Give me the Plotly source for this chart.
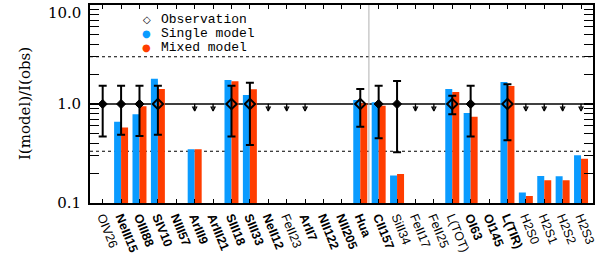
import plotly.graph_objects as go

# ---------------- data ----------------
lines = ["OIV26", "NeIII15", "OIII88", "SIV10", "NIII57", "ArIII9", "ArIII21",
         "SIII18", "SIII33", "NeII12", "FeII23", "ArII7", "NII122", "NII205",
         "Hua", "CII157", "SiII34", "FeII17", "FeII25", "L(TOT)", "OI63",
         "OI145", "L(TIR)", "H2S0", "H2S1", "H2S2", "H2S3"]
bold = [False, True, True, True, True, True, True, True, True, True, False,
        True, True, True, True, True, False, False, False, False, True, True,
        True, False, False, False, False]

single_model = [None, 0.66, 0.79, 1.80, None, 0.35, None, 1.75, 1.23, None, None,
                None, None, None, 1.10, 1.04, 0.19, None, None, 1.42, 0.81, None,
                1.67, 0.128, 0.187, 0.186, 0.303]
mixed_model = [None, 0.58, 0.95, 1.42, None, 0.35, None, 1.70, 1.41, None, None,
               None, None, None, 1.02, 0.96, 0.196, None, None, 1.32, 0.745, None,
               1.52, 0.118, 0.17, 0.17, 0.28]

# observations (ratio = 1) with error ranges; 'filled' vs open diamond
obs_filled = ["OIV26", "NeIII15", "OIII88", "CII157", "SiII34", "OI63"]
obs_filled_lo = [0.47, 0.49, 0.475, 0.45, 0.325, 0.47]
obs_filled_hi = [1.53, 1.53, 1.53, 1.53, 1.71, 1.53]

obs_open = ["SIV10", "SIII18", "SIII33", "Hua", "L(TOT)", "L(TIR)"]
obs_open_lo = [0.49, 0.47, 0.385, 0.59, 0.79, 0.43]
obs_open_hi = [1.53, 1.53, 1.64, 1.42, 1.21, 1.58]

upper_limits = ["ArIII9", "ArIII21", "NeII12", "FeII23", "ArII7", "FeII17",
                "FeII25", "H2S0", "H2S1", "H2S2", "H2S3"]
limit_tip = 0.85              # where the upper-limit arrows end

divider_pos = 14.47           # thin grey separator between Hua and CII157
x_range = [-0.69, 26.65]
y_ticks = [0.1, 1, 10]
y_ticktext = ["0.1", "1.0", "10.0"]
blue = "#0A9BFF"
orange = "#FF3D00"

idx = {n: i for i, n in enumerate(lines)}
xs = list(range(len(lines)))

fig = go.Figure()
fig.add_trace(go.Bar(x=xs, y=single_model, marker=dict(color=blue, line=dict(width=0)),
                     name="Single model", showlegend=False))
fig.add_trace(go.Bar(x=xs, y=mixed_model, marker=dict(color=orange, line=dict(width=0)),
                     name="Mixed model", showlegend=False))

# upper limit arrows: stem (error bar) + arrow head marker
ul_x = [idx[n] for n in upper_limits]
fig.add_trace(go.Scatter(x=ul_x, y=[1] * len(ul_x), mode="markers",
                         marker=dict(size=1, color="black"),
                         error_y=dict(type="data", symmetric=False,
                                      array=[0] * len(ul_x),
                                      arrayminus=[1 - limit_tip] * len(ul_x),
                                      color="black", thickness=1.3, width=0),
                         showlegend=False, hoverinfo="skip"))
fig.add_trace(go.Scatter(x=ul_x, y=[limit_tip] * len(ul_x), mode="markers",
                         marker=dict(symbol="arrow-down-open", size=4, color="black",
                                     line=dict(color="black", width=1.2)),
                         showlegend=False, hoverinfo="skip"))

def err_trace(names, lo, hi, symbol, size, lw):
    return go.Scatter(
        x=[idx[n] for n in names], y=[1] * len(names), mode="markers",
        marker=dict(symbol=symbol, size=size, color="black",
                    line=dict(color="black", width=lw)),
        error_y=dict(type="data", symmetric=False,
                     array=[h - 1 for h in hi], arrayminus=[1 - l for l in lo],
                     color="black", thickness=2, width=4),
        showlegend=False)

fig.add_trace(err_trace(obs_filled, obs_filled_lo, obs_filled_hi, "diamond", 7, 1))
fig.add_trace(err_trace(obs_open, obs_open_lo, obs_open_hi, "diamond-open", 8, 2))

# reference lines
fig.add_hline(y=1, line=dict(color="black", width=1.5), layer="below")
fig.add_hline(y=3, line=dict(color="black", width=1.2, dash="dot"), layer="below")
fig.add_hline(y=1 / 3, line=dict(color="black", width=1.2, dash="dot"), layer="below")
fig.add_vline(x=divider_pos, line=dict(color="#b0b0b0", width=1), layer="below")

ticktext = [f"<b>{n}</b>" if b else n for n, b in zip(lines, bold)]

fig.update_layout(
    width=599, height=272,
    margin=dict(l=90, r=6, t=5, b=69, autoexpand=False),
    paper_bgcolor="white", plot_bgcolor="white",
    barmode="group", bargap=0.24, bargroupgap=0,
    showlegend=False,
)
fig.update_xaxes(
    range=x_range, tickmode="array", tickvals=xs, ticktext=ticktext,
    tickangle=68, ticks="inside", ticklen=4, tickwidth=1, tickcolor="black",
    showline=True, linecolor="black", linewidth=2, mirror="ticks",
    showgrid=False, zeroline=False, automargin=False,
    tickfont=dict(family="Liberation Sans", size=12.5, color="black"),
)
minor_vals = [0.2, 0.3, 0.4, 0.5, 0.6, 0.7, 0.8, 0.9, 2, 3, 4, 5, 6, 7, 8, 9]
fig.update_yaxes(
    type="log", range=[-1, 1], tickmode="array", tickvals=y_ticks[:2],
    ticktext=y_ticktext[:2],
    ticks="inside", ticklen=9, tickwidth=1.5, tickcolor="black",
    minor=dict(tickvals=minor_vals + [10], ticks="inside", ticklen=9,
               tickcolor="black", tickwidth=1, showgrid=False),
    showline=True, linecolor="black", linewidth=2, mirror="ticks",
    showgrid=False, zeroline=False, ticklabelstandoff=4, automargin=False,
    tickfont=dict(family="DejaVu Serif", size=15, color="black"),
)
# top label (drawn slightly below its tick, as in the original)
fig.add_annotation(text=y_ticktext[2], xref="paper", yref="y", x=0, y=1,
                   xanchor="right", yanchor="middle", xshift=-7, yshift=-8,
                   showarrow=False,
                   font=dict(family="DejaVu Serif", size=15, color="black"))

# y-axis title
fig.add_annotation(text="I(model)/I(obs)", xref="paper", yref="paper",
                   x=-0.129, y=0.5, textangle=-90, showarrow=False,
                   xanchor="center", yanchor="middle",
                   font=dict(family="DejaVu Serif", size=15, color="black"))

# legend (drawn manually to match compact spacing)
leg_font = dict(family="Liberation Mono", size=13, color="black")
leg_items = [("◇", "black", "Observation", 0.927),
             ("●", blue, "Single model", 0.856),
             ("●", orange, "Mixed model", 0.785)]
for sym, col, label, yy in leg_items:
    fig.add_annotation(text=sym, xref="paper", yref="paper", x=0.1125, y=yy,
                       showarrow=False, xanchor="center", yanchor="middle",
                       font=dict(family="DejaVu Sans", size=10, color=col))
    fig.add_annotation(text=label, xref="paper", yref="paper", x=0.137, y=yy,
                       showarrow=False, xanchor="left", yanchor="middle",
                       height=13, font=leg_font)

fig.write_html("out.html", config={"displayModeBar": False},
               post_script="document.body.style.margin='0';"
                           "document.body.style.overflow='hidden';")
